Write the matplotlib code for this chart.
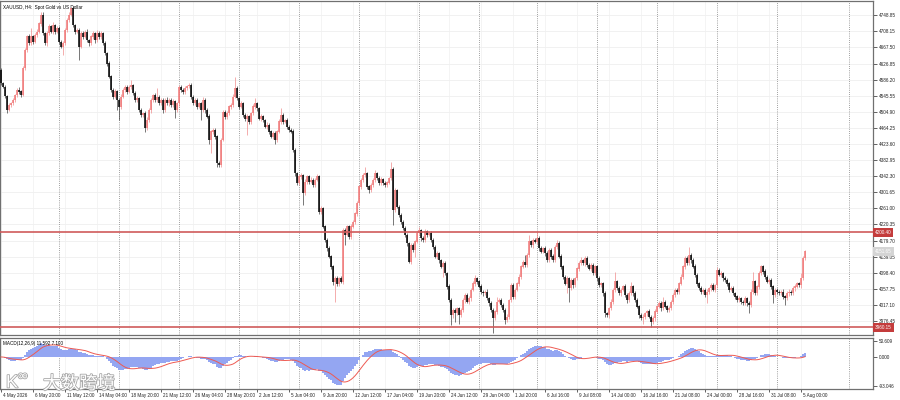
import matplotlib
matplotlib.use('Agg')
import matplotlib.pyplot as plt
import matplotlib.patheffects as pe
import matplotlib.transforms as mtransforms
import numpy as np
import pandas as pd

plt.rcParams['font.family'] = ['Liberation Sans', 'Noto Sans CJK SC', 'DejaVu Sans']

title = 'XAUUSD, H4:  Spot Gold vs US Dollar'
macd_title = 'MACD(12,26,9) 11.592 7.100'

# H4 closes, one per bar, 4 May - 5 Aug
first_open = 4610
closes = [
    4577, 4568, 4545, 4510, 4522, 4526, 4535, 4547, 4560, 4556, 4548, 4615, 4661, 4695, 4678, 4695,
    4682, 4699, 4707, 4728, 4750, 4703, 4678, 4703, 4720, 4707, 4724, 4707, 4716, 4682, 4670, 4678,
    4712, 4737, 4750, 4766, 4724, 4707, 4712, 4670, 4703, 4695, 4707, 4686, 4678, 4695, 4703, 4686,
    4703, 4695, 4703, 4678, 4653, 4627, 4594, 4560, 4543, 4556, 4535, 4518, 4543, 4560, 4567, 4556,
    4568, 4572, 4552, 4535, 4539, 4509, 4497, 4501, 4463, 4484, 4509, 4535, 4547, 4535, 4543, 4526,
    4535, 4509, 4535, 4526, 4535, 4522, 4531, 4509, 4526, 4568, 4560, 4556, 4564, 4570, 4573, 4543,
    4526, 4535, 4518, 4526, 4509, 4535, 4509, 4493, 4434, 4455, 4459, 4442, 4375, 4371, 4434, 4505,
    4493, 4501, 4518, 4522, 4543, 4564, 4539, 4518, 4526, 4497, 4488, 4493, 4480, 4501, 4518, 4526,
    4514, 4488, 4493, 4484, 4467, 4472, 4455, 4442, 4451, 4434, 4455, 4480, 4497, 4480, 4484, 4467,
    4459, 4455, 4408, 4350, 4324, 4341, 4345, 4299, 4328, 4341, 4328, 4333, 4320, 4333, 4341, 4253,
    4261, 4215, 4181, 4160, 4139, 4114, 4076, 4084, 4071, 4084, 4076, 4206, 4194, 4215, 4189, 4215,
    4227, 4248, 4274, 4316, 4333, 4345, 4349, 4316, 4307, 4320, 4333, 4349, 4337, 4326, 4334, 4324,
    4320, 4326, 4337, 4360, 4257, 4307, 4265, 4244, 4227, 4211, 4194, 4173, 4126, 4168, 4156, 4177,
    4198, 4206, 4185, 4181, 4202, 4194, 4198, 4181, 4164, 4139, 4147, 4130, 4114, 4122, 4097, 4063,
    4029, 3991, 4004, 3996, 4008, 3991, 4004, 4029, 4042, 4025, 4034, 4055, 4071, 4084, 4076, 4063,
    4050, 4046, 4050, 4034, 4021, 4004, 3983, 4000, 4025, 4029, 4017, 4004, 3979, 3987, 4029, 4067,
    4038, 4055, 4071, 4088, 4114, 4126, 4118, 4143, 4177, 4168, 4181, 4177, 4185, 4160, 4152, 4160,
    4147, 4130, 4156, 4139, 4130, 4164, 4173, 4139, 4114, 4088, 4071, 4084, 4059, 4080, 4067, 4084,
    4109, 4122, 4130, 4122, 4135, 4118, 4109, 4118, 4097, 4114, 4084, 4067, 4071, 4046, 3996, 3991,
    4008, 4025, 4055, 4076, 4059, 4046, 4055, 4063, 4042, 4029, 4046, 4063, 4046, 4029, 4013, 3991,
    3983, 3987, 3996, 4000, 3987, 3975, 3983, 4000, 4013, 4021, 4008, 4025, 4013, 4004, 4008, 4025,
    4042, 4055, 4050, 4071, 4088, 4114, 4135, 4122, 4143, 4130, 4114, 4093, 4071, 4059, 4050, 4055,
    4042, 4050, 4059, 4067, 4055, 4067, 4105, 4093, 4097, 4084, 4080, 4071, 4055, 4059, 4046, 4038,
    4029, 4034, 4025, 4021, 4034, 4021, 4017, 4050, 4076, 4046, 4063, 4097, 4114, 4101, 4088, 4076,
    4080, 4063, 4042, 4055, 4050, 4046, 4050, 4038, 4034, 4046, 4050, 4046, 4059, 4063, 4071, 4067,
    4084, 4135, 4152,
]

# wick above the body / below the body, in dollars
up_wick = [
    6, 4, 5, 3, 5, 4, 6, 3, 5, 7, 4, 6, 5, 4, 6, 21,
    5, 4, 6, 5, 8, 6, 4, 5, 8, 5, 9, 4, 6, 5, 4, 6,
    5, 4, 6, 5, 7, 4, 5, 6, 5, 7, 4, 6, 3, 5, 6, 4,
    8, 5, 6, 4, 5, 3, 6, 4, 5, 7, 4, 5, 6, 4, 5, 6,
    5, 13, 4, 6, 5, 3, 6, 4, 5, 7, 5, 6, 4, 5, 21, 4,
    6, 4, 5, 7, 4, 5, 6, 3, 5, 6, 4, 5, 6, 4, 4, 5,
    4, 6, 5, 4, 5, 7, 4, 5, 6, 4, 5, 6, 4, 5, 6, 5,
    4, 6, 5, 4, 6, 28, 5, 4, 6, 5, 4, 6, 5, 4, 6, 13,
    5, 4, 6, 5, 4, 6, 5, 4, 6, 5, 4, 6, 17, 5, 4, 6,
    5, 4, 6, 5, 4, 6, 5, 4, 6, 5, 4, 6, 5, 4, 6, 5,
    6, 4, 5, 4, 6, 5, 4, 6, 5, 4, 6, 5, 6, 4, 5, 6,
    4, 5, 6, 4, 5, 6, 17, 5, 4, 6, 5, 9, 4, 6, 5, 4,
    6, 5, 4, 19, 5, 6, 4, 5, 6, 4, 5, 6, 4, 5, 6, 4,
    5, 9, 4, 6, 8, 5, 4, 6, 5, 4, 6, 5, 4, 6, 5, 4,
    6, 5, 4, 6, 5, 4, 6, 5, 4, 6, 5, 4, 6, 9, 4, 5,
    6, 4, 5, 6, 4, 5, 6, 4, 13, 5, 6, 4, 5, 6, 4, 5,
    6, 4, 5, 6, 4, 5, 17, 4, 17, 5, 6, 4, 17, 5, 6, 4,
    5, 6, 4, 5, 6, 4, 8, 5, 6, 4, 5, 6, 4, 5, 6, 4,
    5, 6, 9, 4, 5, 6, 4, 5, 6, 4, 5, 6, 4, 5, 6, 4,
    5, 6, 4, 25, 5, 6, 4, 5, 6, 4, 5, 13, 4, 5, 6, 4,
    5, 6, 4, 5, 6, 4, 5, 6, 4, 5, 6, 13, 4, 5, 6, 4,
    5, 6, 4, 5, 6, 4, 5, 6, 21, 4, 5, 6, 4, 5, 6, 4,
    5, 6, 4, 5, 6, 4, 9, 5, 6, 4, 5, 6, 4, 5, 6, 4,
    5, 6, 4, 5, 6, 4, 5, 6, 25, 4, 5, 6, 4, 5, 6, 4,
    5, 6, 4, 5, 6, 4, 5, 6, 4, 5, 6, 4, 5, 6, 4, 5,
    13, 6, 4,
]
dn_wick = [
    5, 4, 6, 9, 4, 5, 3, 6, 4, 5, 6, 4, 5, 6, 4, 5,
    6, 4, 5, 3, 6, 5, 4, 6, 5, 4, 6, 5, 4, 6, 5, 22,
    4, 5, 6, 4, 5, 6, 4, 34, 5, 6, 4, 5, 6, 4, 5, 6,
    4, 5, 6, 4, 5, 6, 4, 5, 6, 4, 26, 34, 5, 4, 6, 5,
    4, 6, 5, 4, 6, 5, 4, 6, 8, 5, 4, 6, 5, 4, 6, 5,
    4, 6, 5, 4, 6, 5, 4, 19, 5, 6, 4, 5, 6, 4, 5, 6,
    4, 5, 6, 4, 25, 5, 6, 4, 10, 34, 5, 6, 9, 5, 6, 4,
    5, 6, 4, 5, 6, 4, 5, 6, 4, 5, 6, 42, 5, 6, 4, 5,
    6, 4, 5, 6, 4, 5, 6, 4, 5, 10, 6, 4, 5, 6, 4, 5,
    6, 4, 5, 6, 4, 5, 6, 30, 4, 5, 6, 4, 5, 6, 4, 5,
    6, 4, 5, 6, 4, 5, 9, 51, 5, 6, 4, 5, 26, 4, 5, 6,
    4, 5, 6, 4, 5, 6, 4, 5, 6, 4, 5, 6, 4, 5, 6, 4,
    5, 6, 4, 5, 38, 6, 4, 5, 6, 4, 5, 6, 4, 5, 6, 17,
    4, 5, 6, 4, 5, 6, 4, 5, 6, 4, 5, 6, 4, 26, 5, 6,
    4, 25, 6, 21, 5, 21, 4, 5, 6, 4, 5, 6, 4, 5, 6, 4,
    5, 6, 4, 5, 6, 4, 38, 5, 6, 4, 5, 6, 9, 5, 6, 4,
    5, 6, 4, 5, 6, 4, 5, 6, 4, 5, 6, 4, 5, 6, 4, 5,
    6, 4, 5, 6, 4, 5, 6, 4, 5, 6, 4, 25, 34, 5, 6, 4,
    5, 6, 4, 5, 6, 4, 5, 6, 4, 5, 6, 4, 5, 6, 9, 5,
    6, 4, 5, 6, 4, 5, 6, 4, 5, 6, 4, 5, 6, 4, 5, 6,
    4, 13, 5, 6, 4, 13, 5, 6, 4, 5, 6, 4, 5, 6, 4, 5,
    6, 4, 5, 6, 4, 5, 6, 4, 5, 6, 4, 5, 6, 4, 5, 6,
    4, 21, 5, 6, 4, 5, 6, 4, 5, 6, 4, 5, 6, 4, 5, 6,
    4, 5, 6, 4, 5, 6, 21, 5, 6, 4, 5, 6, 4, 5, 6, 4,
    5, 6, 21, 5, 6, 4, 5, 6, 17, 5, 6, 4, 5, 6, 4, 5,
    6, 4, 5,
]

date_labels = ['4 May 2026', '6 May 20:00', '11 May 12:00', '14 May 04:00', '18 May 20:00',
               '21 May 12:00', '26 May 04:00', '28 May 20:00', '2 Jun 12:00', '5 Jun 04:00',
               '9 Jun 20:00', '12 Jun 12:00', '17 Jun 04:00', '19 Jun 20:00', '24 Jun 12:00',
               '29 Jun 04:00', '1 Jul 20:00', '6 Jul 16:00', '9 Jul 08:00', '14 Jul 00:00',
               '16 Jul 16:00', '21 Jul 08:00', '24 Jul 00:00', '28 Jul 16:00', '31 Jul 08:00',
               '5 Aug 00:00']
label_step = 16
week_starts = [29, 59, 89, 119, 149, 179, 209, 239, 268, 298, 328, 358, 388, 424]

price_ticks = [4748.85, 4708.15, 4667.50, 4626.85, 4586.20, 4545.55, 4504.90, 4464.25,
               4423.60, 4382.95, 4342.30, 4301.65, 4261.00, 4220.35, 4179.70, 4139.05,
               4098.40, 4057.75, 4017.10, 3976.45]
levels = [4200.40, 3960.15]
last_price_label = '4151.65'
macd_ticks = [50.609, 0.0, -93.046]
macd_tick_labels = ['50.609', '0.000', '-93.046']

c = np.array(closes, float)
o = np.concatenate([[first_open], c[:-1]])
hi = np.maximum(o, c) + np.array(up_wick)
lo = np.minimum(o, c) - np.array(dn_wick)
x = np.arange(len(c))
bull = c >= o

s = pd.Series(c)
macd = s.ewm(span=12, adjust=False).mean() - s.ewm(span=26, adjust=False).mean()
signal = macd.rolling(9, min_periods=1).mean()

W, H = 900, 400
def box(l, t, r, b):
    return [l / W, 1 - b / H, (r - l) / W, (b - t) / H]

fig = plt.figure(figsize=(9, 4), dpi=100)
ax = fig.add_axes(box(0, 1, 873, 335))
axm = fig.add_axes(box(0, 338, 873, 389), sharex=ax)

xmin, xmax = -0.5, 436
label_pos = [i * label_step for i in range(len(date_labels))]

# grids
ax.hlines(price_ticks, xmin, xmax, color='#ececec', lw=0.5, zorder=0)
for a in (ax, axm):
    a.vlines(label_pos, -1e4, 1e4, color='#f0f0f0', lw=0.5, zorder=0)
    for w in week_starts:
        a.axvline(w, color='#808080', lw=0.6, ls=(0, (1, 1.6)), zorder=1)

# candles
body_col = np.where(bull, '#f07676', '#000000')
wick_col = np.where(bull, '#f08c8c', '#404040')
ax.vlines(x, lo, hi, colors=wick_col, lw=0.5, zorder=3)
ax.vlines(x, np.minimum(o, c), np.maximum(o, c) + 0.6, colors=body_col, lw=1.1, zorder=4)

# horizontal levels
for lv in levels:
    ax.axhline(lv, color='#cf5b5b', lw=1.2, zorder=5)
    ax.text(1.002, lv, f'{lv:.2f}', transform=ax.get_yaxis_transform(), ha='left', va='center',
            fontsize=3.3, color='white', zorder=6, clip_on=False,
            bbox=dict(boxstyle='square,pad=0.45', fc='#c43c3c', ec='none'))
ax.text(1.002, c[-1], last_price_label, transform=ax.get_yaxis_transform(), ha='left',
        va='center', fontsize=3.3, color='white', clip_on=False,
        bbox=dict(boxstyle='square,pad=0.45', fc='#d4d4d4', ec='none'))

ax.set_xlim(xmin, xmax)
ax.set_ylim(3941, 4785)
ax.yaxis.tick_right()
ax.set_yticks(price_ticks)
ax.set_yticklabels([f'{v:.2f}' for v in price_ticks])
ax.tick_params(axis='y', length=3, width=0.5, pad=1, labelsize=3.3, colors='#222222')
ax.tick_params(axis='x', bottom=False, labelbottom=False)
ax.text(3 / 873, 1 - 6 / 334, title, transform=ax.transAxes, fontsize=3.3, va='center')

# MACD panel
axm.bar(x, macd, width=0.7, color='#94a6f2', lw=0, zorder=2)
axm.plot(x, signal, color='#ee5a52', lw=0.7, zorder=3)
axm.set_ylim(-101.6, 60.1)
axm.yaxis.tick_right()
axm.set_yticks(macd_ticks)
axm.set_yticklabels(macd_tick_labels)
axm.tick_params(axis='y', length=3, width=0.5, pad=1, labelsize=3.3, colors='#222222')
axm.set_xticks(label_pos)
axm.set_xticklabels(date_labels, ha='left')
axm.tick_params(axis='x', length=2, width=0.5, pad=1, labelsize=3.3, colors='#222222')
shift = mtransforms.ScaledTranslation(1.2 / 72, 0, fig.dpi_scale_trans)
for t in axm.get_xticklabels():
    t.set_transform(t.get_transform() + shift)
axm.text(3 / 873, 1 - 5 / 51, macd_title, transform=axm.transAxes, fontsize=3.3, va='center')

for a in (ax, axm):
    for sp in a.spines.values():
        sp.set_color('#707070')
        sp.set_linewidth(0.9)

# watermark
halo = [pe.withStroke(linewidth=1.2, foreground='#a8a8a8')]
fig.text(43 / W, 1 - 384 / H, '大数跨境', fontsize=13, color='white', va='center',
         family=['Noto Sans CJK SC'], path_effects=halo)
fig.text(6 / W, 1 - 383 / H, 'K', fontsize=13, color='white', va='center', path_effects=halo)
fig.text(17 / W, 1 - 376 / H, '∞', fontsize=10, color='white', va='center',
         family=['DejaVu Sans'], path_effects=halo)

fig.savefig('out.png', dpi=100, facecolor='white')
